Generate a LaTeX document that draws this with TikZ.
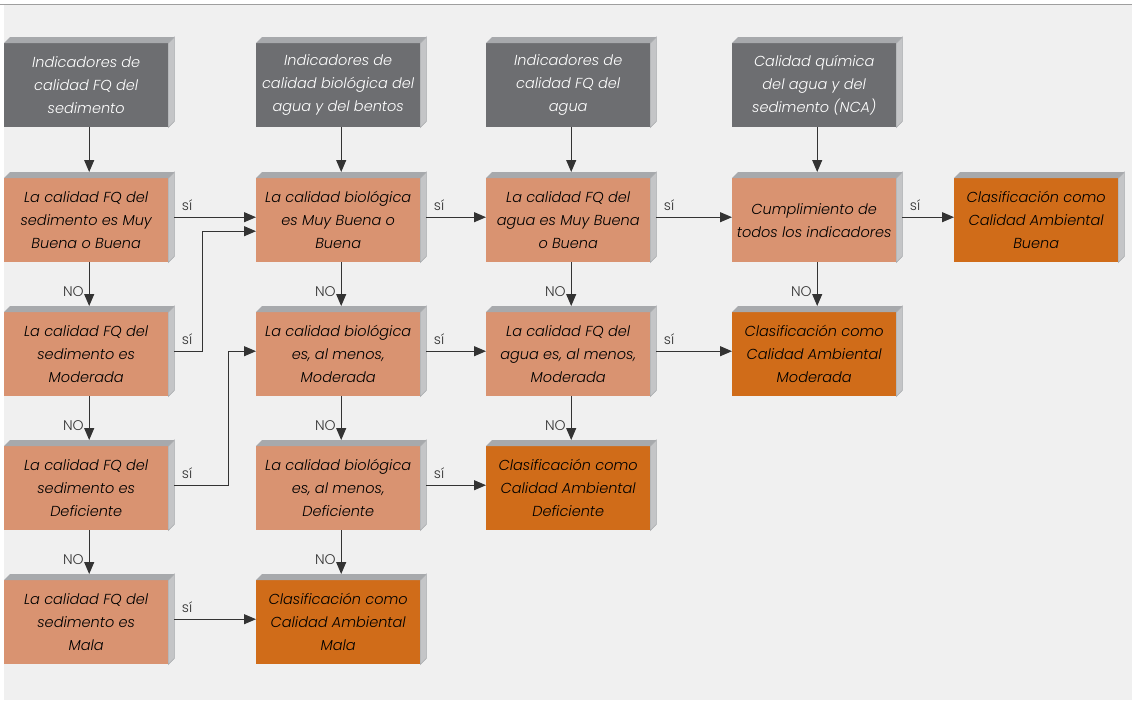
\documentclass[tikz,border=0pt]{standalone}
\usepackage{fontspec}
\setmainfont{Poppins Light}[ItalicFont={Poppins Light Italic}]
\usepackage{tikz}
\usetikzlibrary{arrows.meta,positioning}

\definecolor{fondo}{HTML}{F0F0F0}
\definecolor{gris}{HTML}{6D6E71}
\definecolor{salmon}{HTML}{D99371}
\definecolor{naranja}{HTML}{D06C19}
\definecolor{arriba}{HTML}{A7A9AC}
\definecolor{lado}{HTML}{C4C5C7}
\definecolor{linea}{HTML}{333333}

\tikzset{
  caja/.style={anchor=north west, minimum width=164pt, minimum height=84pt,
    inner xsep=0pt, inner ysep=2pt, align=center,
    font=\fontsize{14.5}{23}\selectfont\itshape},
  entrada/.style={caja, fill=gris, text=white},
  pregunta/.style={caja, fill=salmon, text=black},
  resultado/.style={caja, fill=naranja, text=black},
  flecha/.style={-{Triangle[length=12pt,width=10pt]}, line width=1pt, draw=linea},
  si/.style={anchor=south west, shift={(6pt,5pt)}, inner sep=1pt,
    font=\fontsize{14}{14}\selectfont, text=linea},
  no/.style={pos=0.66, left=4pt, inner sep=1pt,
    font=\fontsize{14}{14}\selectfont, text=linea}
}

\begin{document}
\begin{tikzpicture}[x=1pt,y=-1pt]
\useasboundingbox (0,0) rectangle (1132,702);
\fill[white] (0,0) rectangle (1132,702);
\fill[fondo] (4,5) rectangle (1132,700);
\draw[gray!75,line width=1pt] (0,4) -- (1132,4);
% entradas
\node[entrada] (g1) at (4,43) {Indicadores de\\calidad FQ del\\sedimento};
\node[entrada] (g2) at (256,43) {Indicadores de\\calidad biológica del\\agua y del bentos};
\node[entrada] (g3) at (486,43) {Indicadores de\\calidad FQ del\\agua};
\node[entrada] (g4) at (732,43) {Calidad química\\del agua y del\\sedimento (NCA)};
% sedimento
\node[pregunta] (a1) at (4,178) {La calidad FQ del\\sedimento es Muy\\Buena o Buena};
\node[pregunta] (a2) at (4,312) {La calidad FQ del\\sedimento es\\Moderada};
\node[pregunta] (a3) at (4,446) {La calidad FQ del\\sedimento es\\Deficiente};
\node[pregunta] (a4) at (4,580) {La calidad FQ del\\sedimento es\\Mala};
% biologica
\node[pregunta] (b1) at (256,178) {La calidad biológica\\es Muy Buena o\\Buena};
\node[pregunta] (b2) at (256,312) {La calidad biológica\\es, al menos,\\Moderada};
\node[pregunta] (b3) at (256,446) {La calidad biológica\\es, al menos,\\Deficiente};
\node[resultado] (b4) at (256,580) {Clasificación como\\Calidad Ambiental\\Mala};
% agua
\node[pregunta] (c1) at (486,178) {La calidad FQ del\\agua es Muy Buena\\o Buena};
\node[pregunta] (c2) at (486,312) {La calidad FQ del\\agua es, al menos,\\Moderada};
\node[resultado] (c3) at (486,446) {Clasificación como\\Calidad Ambiental\\Deficiente};
% quimica
\node[pregunta] (d1) at (732,178) {Cumplimiento de\\todos los indicadores};
\node[resultado] (d2) at (732,312) {Clasificación como\\Calidad Ambiental\\Moderada};
\node[resultado] (e1) at (954,178) {Clasificación como\\Calidad Ambiental\\Buena};
% caras 3D
\foreach \n in {g1,g2,g3,g4,a1,a2,a3,a4,b1,b2,b3,b4,c1,c2,c3,d1,d2,e1}{
  \fill[arriba] (\n.north west) -- ++(6pt,6pt) -- ([shift={(6pt,6pt)}]\n.north east)
    -- (\n.north east) -- cycle;
  \filldraw[fill=lado,draw=arriba,line width=0.6pt] (\n.north east) -- ++(6pt,6pt)
    -- ([shift={(6pt,6pt)}]\n.south east) -- (\n.south east) -- cycle;
}
% flechas
\foreach \n/\m in {g1/a1,g2/b1,g3/c1,g4/d1}
  \draw[flecha] ([xshift=3pt]\n.south) -- ([shift={(3pt,6pt)}]\m.north);
\foreach \n/\m in {a1/a2,a2/a3,a3/a4,b1/b2,b2/b3,b3/b4,c1/c2,c2/c3,d1/d2}
  \draw[flecha] ([xshift=3pt]\n.south) -- node[no]{NO} ([shift={(3pt,6pt)}]\m.north);
\foreach \n/\m in {a1/b1,a4/b4,b1/c1,b2/c2,b3/c3,c1/d1,c2/d2,d1/e1}
  \draw[flecha] ([shift={(6pt,3pt)}]\n.east) node[si]{sí} -- ([yshift=3pt]\m.west);
\draw[flecha] ([shift={(6pt,3pt)}]a2.east) node[si]{sí} -- ++(28pt,0pt) |- ([yshift=-11pt]b1.west);
\draw[flecha] ([shift={(6pt,3pt)}]a3.east) node[si]{sí} -- ++(54pt,0pt) |- ([yshift=3pt]b2.west);
\end{tikzpicture}
\end{document}
